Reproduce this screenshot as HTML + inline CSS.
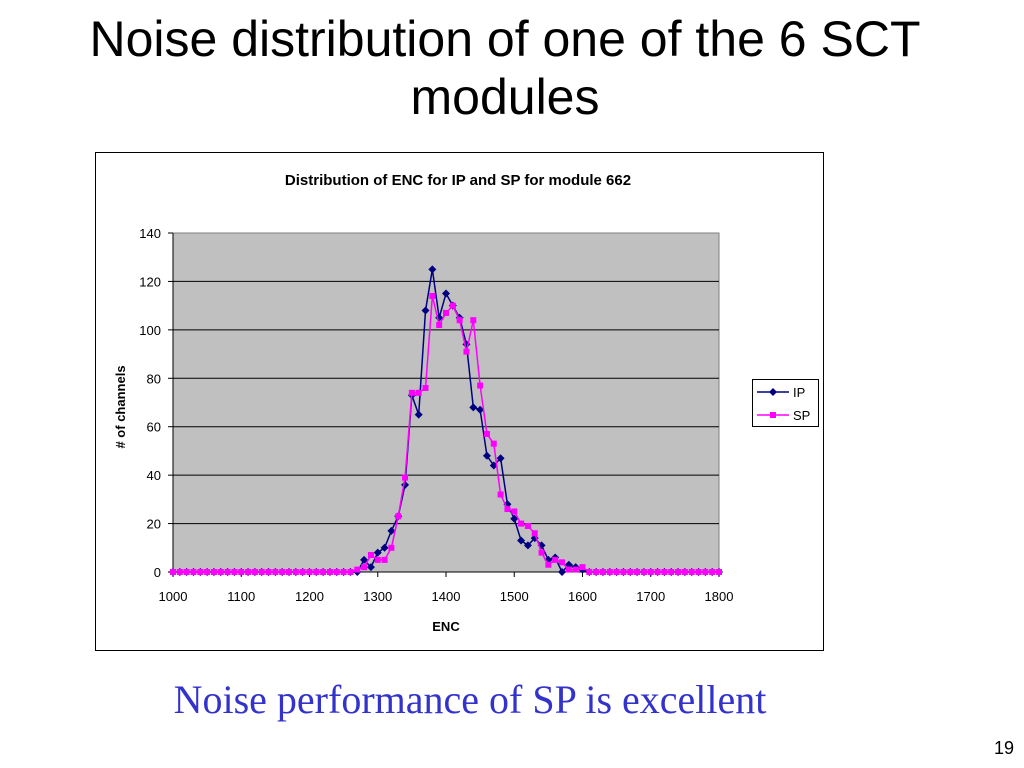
<!DOCTYPE html>
<html><head><meta charset="utf-8"><style>
body{margin:0;width:1024px;height:768px;background:#fff;position:relative;overflow:hidden;font-family:"Liberation Sans",sans-serif}
.t{position:absolute;left:0;width:1010px;text-align:center;font-size:50px;line-height:58px;top:10px}
.sub{position:absolute;left:0;width:940px;text-align:center;top:676px;font-family:"Liberation Serif",serif;font-size:40px;color:#3333cc}
.pg{position:absolute;right:10px;top:738px;font-size:18px}
</style></head><body>
<div class="t">Noise distribution of one of the 6 SCT<br>modules</div>
<svg width="1024" height="768" style="position:absolute;left:0;top:0">
<rect x="95.5" y="152.5" width="728" height="498" fill="#fff" stroke="#000"/>
<text x="458" y="185" text-anchor="middle" font-size="15" font-weight="bold">Distribution of ENC for IP and SP for module 662</text>
<rect x="173" y="233" width="546" height="339" fill="#c0c0c0" stroke="#808080"/>
<g id="grid"></g><g id="axes"></g><g id="series"></g>
<text x="446" y="631" text-anchor="middle" font-size="13" font-weight="bold">ENC</text>
<text transform="translate(125,407) rotate(-90)" text-anchor="middle" font-size="13" font-weight="bold"># of channels</text>
<g>
<rect x="752.5" y="379.5" width="66" height="47" fill="#fff" stroke="#000"/>
<line x1="757" y1="392" x2="789" y2="392" stroke="#000080" stroke-width="1.5"/>
<path d="M773 388 L777 392 L773 396 L769 392Z" fill="#000080"/>
<text x="793" y="397" font-size="13">IP</text>
<line x1="757" y1="415" x2="789" y2="415" stroke="#ff00ff" stroke-width="1.5"/>
<rect x="770" y="412" width="6" height="6" fill="#ff00ff"/>
<text x="793" y="420" font-size="13">SP</text>
</g>
</svg>
<div class="sub">Noise performance of SP is excellent</div>
<div class="pg">19</div>
<script>
const xTicks=[1000,1100,1200,1300,1400,1500,1600,1700,1800];
const yTicks=[0,20,40,60,80,100,120,140];
const encStart=1000, encStep=10;
const ipValues=[0,0,0,0,0,0,0,0,0,0, 0,0,0,0,0,0,0,0,0,0, 0,0,0,0,0,0,0,0,5,2, 8,10,17,23,36,73,65,108,125,105, 115,110,105,94,68,67,48,44,47,28, 22,13,11,14,11,5,6,0,3,2, 1,0,0,0,0,0,0,0,0,0, 0,0,0,0,0,0,0,0,0,0,0];
const spValues=[0,0,0,0,0,0,0,0,0,0, 0,0,0,0,0,0,0,0,0,0, 0,0,0,0,0,0,0,1,2,7, 5,5,10,23,39,74,74,76,114,102, 107,110,104,91,104,77,57,53,32,26, 25,20,19,16,8,3,5,4,1,1, 2,0,0,0,0,0,0,0,0,0, 0,0,0,0,0,0,0,0,0,0,0];
const NS='http://www.w3.org/2000/svg';
const X=v=>173+(v-1000)/800*546, Y=v=>572-v/140*339;
function mk(p,t,a){const e=document.createElementNS(NS,t);for(const k in a)e.setAttribute(k,a[k]);p.appendChild(e);return e;}
const grid=document.getElementById('grid'),axes=document.getElementById('axes'),ser=document.getElementById('series');
yTicks.forEach(v=>{
 if(v>0&&v<140){const l=mk(grid,'line',{x1:173,x2:719,y1:Y(v),y2:Y(v),stroke:'#000','stroke-width':1});
 
 }
 mk(axes,'line',{x1:168,x2:173,y1:Y(v),y2:Y(v),stroke:'#000'});
 const t=mk(axes,'text',{x:161,y:Y(v)+5,'text-anchor':'end','font-size':13});t.textContent=v;
 
 
});
xTicks.forEach(v=>{
 mk(axes,'line',{x1:X(v),x2:X(v),y1:572,y2:577,stroke:'#000'});
 const t=mk(axes,'text',{x:X(v),y:601,'text-anchor':'middle','font-size':13});t.textContent=v;
 
 
});
mk(axes,'line',{x1:173,x2:719,y1:572,y2:572,stroke:'#000'});
mk(axes,'line',{x1:173,x2:173,y1:233,y2:572,stroke:'#000'});
function draw(vals,color,shape,name){
 const pts=vals.map((v,i)=>[X(encStart+i*encStep),Y(v)]);
 const pl=mk(ser,'polyline',{points:pts.map(p=>p.join(',')).join(' '),fill:'none',stroke:color,'stroke-width':1.5});
 
 
 pts.forEach(p=>{
  let m;
  if(shape==='d')m=mk(ser,'path',{d:`M${p[0]} ${p[1]-4}L${p[0]+4} ${p[1]}L${p[0]} ${p[1]+4}L${p[0]-4} ${p[1]}Z`,fill:color});
  else m=mk(ser,'rect',{x:p[0]-3,y:p[1]-3,width:6,height:6,fill:color});
  
  
 });
}
draw(ipValues,'#000080','d','ip');
draw(spValues,'#ff00ff','s','sp');
</script>
</body></html>
